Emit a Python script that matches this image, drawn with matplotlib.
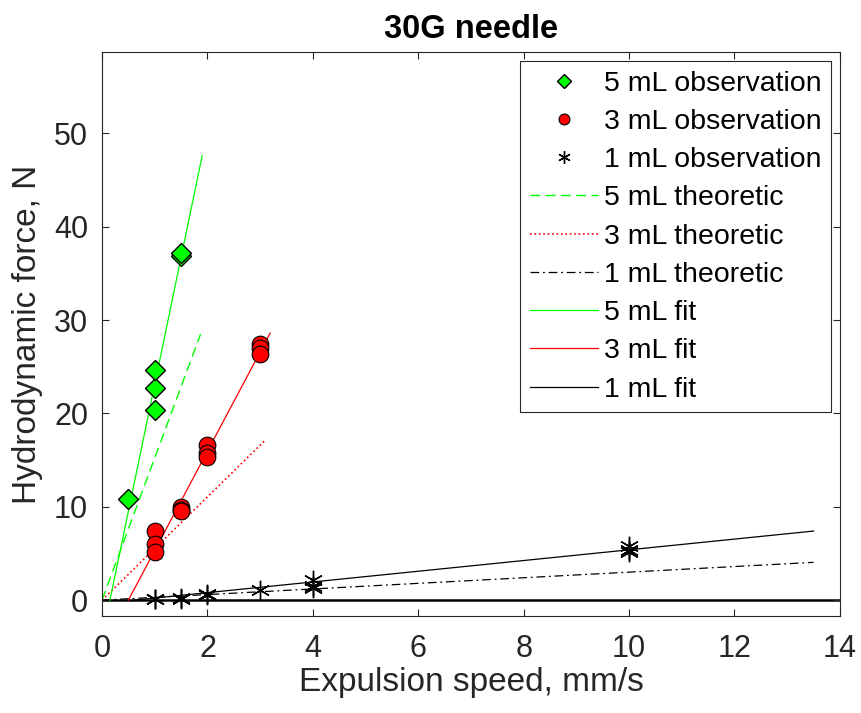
import matplotlib
matplotlib.use('Agg')
import matplotlib.pyplot as plt
import numpy as np

plt.rcParams['font.family'] = ['Liberation Sans', 'DejaVu Sans']

# Observaciones (velocidad mm/s, fuerza N)
x5_obs = [0.5, 1.0, 1.0, 1.0, 1.5, 1.5]
y5_obs = [10.8, 20.4, 22.7, 24.7, 36.9, 37.2]

x3_obs = [1.0, 1.0, 1.0, 1.5, 1.5, 1.5, 2.0, 2.0, 2.0, 3.0, 3.0, 3.0]
y3_obs = [7.4, 6.0, 5.2, 10.0, 9.7, 9.5, 16.6, 15.8, 15.3, 27.4, 27.0, 26.4]

x1_obs = [1.0, 1.0, 1.5, 1.5, 2.0, 2.0, 3.0, 4.0, 4.0, 4.0, 10.0, 10.0, 10.0]
y1_obs = [0.15, 0.1, 0.1, 0.2, 0.7, 0.5, 1.1, 2.2, 1.5, 1.3, 5.8, 5.4, 5.2]

# Curvas teoricas (extremos)
x5_teo = [0.0, 1.87]
y5_teo = [0.0, 28.5]
x3_teo = [0.0, 3.11]
y3_teo = [0.0, 17.2]
x1_teo = [0.0, 13.5]
y1_teo = [0.0, 4.05]

# Ajustes lineales (extremos)
x5_fit = [0.15, 1.9]
y5_fit = [0.0, 47.6]
x3_fit = [0.5, 3.19]
y3_fit = [0.0, 28.6]
x1_fit = [0.6, 13.5]
y1_fit = [0.0, 7.4]

verde = (0, 1, 0)
rojo = (1, 0, 0)

fig = plt.figure(figsize=(8.61, 7.13), dpi=100)
ax = fig.add_axes([0.1185, 0.136, 0.857, 0.791])

ax.axhline(0, color='k', lw=1.8, zorder=1)

ax.plot(x5_obs, y5_obs, 'D', color=verde, mec='k', ms=10.5, mew=1.0, label='5 mL observation', zorder=5)
ax.plot(x3_obs, y3_obs, 'o', color=rojo, mec='k', ms=12, mew=0.8, label='3 mL observation', zorder=5)
ax.plot(x1_obs, y1_obs, ls='none', marker=(6, 2, 0), color='k', ms=14, mew=1.0, label='1 mL observation', zorder=5)

ax.plot(x5_teo, y5_teo, '--', color=verde, lw=1.0, dashes=(7, 4), label='5 mL theoretic')
ax.plot(x3_teo, y3_teo, ':', color=rojo, lw=1.2, label='3 mL theoretic')
ax.plot(x1_teo, y1_teo, '-.', color='k', lw=0.9, dashes=(7, 3, 1.5, 3), label='1 mL theoretic')

ax.plot(x5_fit, y5_fit, '-', color=verde, lw=0.9, label='5 mL fit')
ax.plot(x3_fit, y3_fit, '-', color=rojo, lw=0.9, label='3 mL fit')
ax.plot(x1_fit, y1_fit, '-', color='k', lw=0.9, label='1 mL fit')

ax.set_xlim(0, 14)
ax.set_ylim(-1.7, 58.7)
ax.set_xticks(np.arange(0, 15, 2))
ax.set_yticks(np.arange(0, 51, 10))
ax.tick_params(direction='in', length=5, width=0.8, labelsize=22, colors='0.15',
               top=True, right=True)
ax.tick_params(axis='x', pad=13)
ax.tick_params(axis='y', pad=10)
for s in ax.spines.values():
    s.set_color('0.15')
    s.set_linewidth(0.8)

ax.set_xlabel('Expulsion speed, mm/s', fontsize=24, color='0.15', labelpad=2)
ax.set_ylabel('Hydrodynamic force, N', fontsize=24, color='0.15', labelpad=8)
ax.set_title('30G needle', fontsize=23.5, fontweight='bold', pad=10)

leg = ax.legend(loc='upper right', fontsize=20.5, handlelength=2.4, handletextpad=0.2,
                borderaxespad=0.3, borderpad=0.35, labelspacing=0.43, markerscale=0.65,
                fancybox=False, framealpha=1, edgecolor='0.15')
leg.get_frame().set_linewidth(0.8)

fig.savefig('out.png', dpi=100)
